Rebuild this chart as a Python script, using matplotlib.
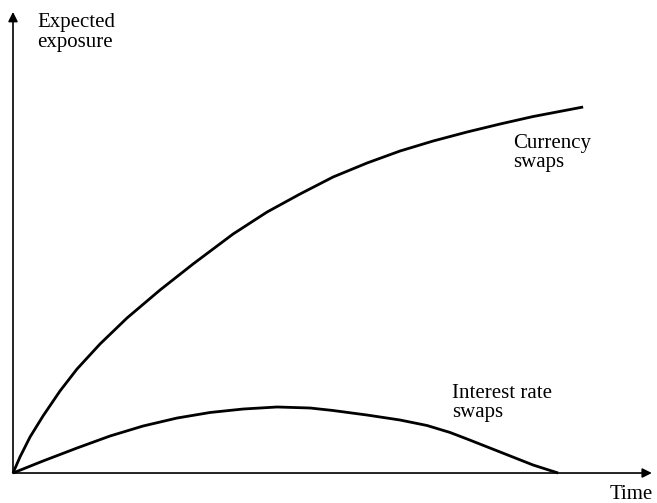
import matplotlib
matplotlib.use("Agg")
from matplotlib import pyplot as plt

# time / exposure values (arbitrary units)
t_currency = [0, 0.109, 0.266, 0.469, 0.734, 1.0, 1.359, 1.781, 2.297, 2.813, 3.438,
              3.969, 4.484, 5.0, 5.531, 6.047, 6.563, 7.094, 7.609, 8.125, 8.906]
e_currency = [0, 0.346, 0.779, 1.234, 1.775, 2.251, 2.792, 3.355, 3.961, 4.524, 5.173,
              5.649, 6.039, 6.407, 6.710, 6.970, 7.186, 7.381, 7.554, 7.716, 7.922]

t_interest = [0, 0.469, 1.0, 1.516, 2.031, 2.563, 3.078, 3.594, 4.125, 4.641, 5.0,
              5.531, 6.047, 6.469, 6.828, 7.094, 7.609, 8.125, 8.516]
e_interest = [0, 0.26, 0.541, 0.801, 1.017, 1.190, 1.31, 1.385, 1.429, 1.407, 1.353,
              1.255, 1.147, 1.028, 0.877, 0.736, 0.455, 0.173, 0]

plt.rcParams['font.family'] = ['Liberation Serif', 'DejaVu Serif']

fig = plt.figure(figsize=(6.57, 5.03), dpi=100)
ax = fig.add_axes([0, 0, 1, 1])
ax.set_xlim(-0.203, 10.06)
ax.set_ylim(-0.649, 10.238)
ax.axis('off')

ax.plot(t_currency, e_currency, color='black', lw=2.0, solid_capstyle='butt', solid_joinstyle='round')
ax.plot(t_interest, e_interest, color='black', lw=2.0, solid_capstyle='butt', solid_joinstyle='round')

# axes with arrow heads
arrow = dict(arrowstyle='-|>', color='black', lw=1.2, mutation_scale=14, shrinkA=0, shrinkB=0)
ax.annotate('', xy=(9.98, 0), xytext=(0, 0), arrowprops=arrow)
ax.annotate('', xy=(0, 9.98), xytext=(0, 0), arrowprops=arrow)

fs = 15
ax.text(0.375, 9.65, 'Expected', fontsize=fs, ha='left', va='baseline')
ax.text(0.375, 9.22, 'exposure', fontsize=fs, ha='left', va='baseline')
ax.text(7.81, 7.03, 'Currency', fontsize=fs, ha='left', va='baseline')
ax.text(7.81, 6.62, 'swaps', fontsize=fs, ha='left', va='baseline')
ax.text(6.86, 1.62, 'Interest rate', fontsize=fs, ha='left', va='baseline')
ax.text(6.86, 1.21, 'swaps', fontsize=fs, ha='left', va='baseline')
ax.text(10.0, -0.56, 'Time', fontsize=fs, ha='right', va='baseline')

fig.savefig('out.png', dpi=100)
